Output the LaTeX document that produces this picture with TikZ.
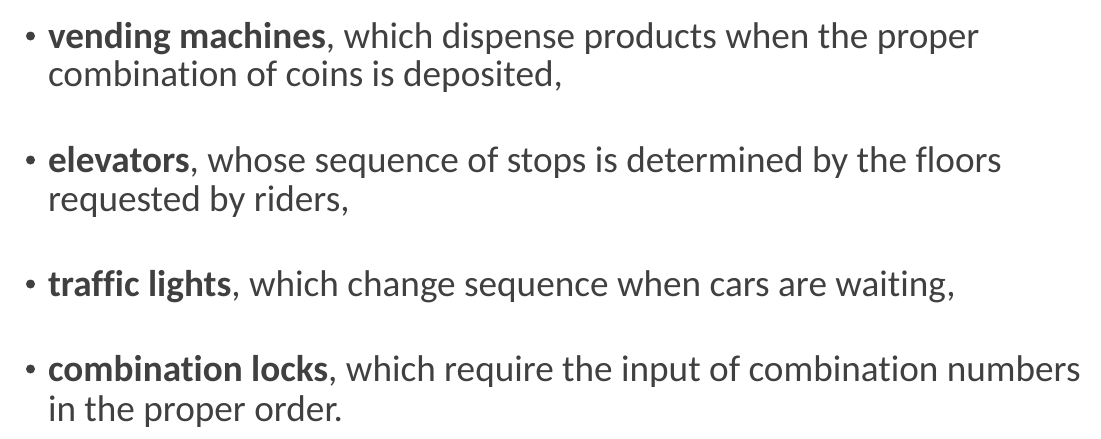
\documentclass[tikz,border=0pt]{standalone}
\usepackage{fontspec}
\setmainfont{Carlito}[Ligatures={NoCommon}]
\definecolor{txt}{HTML}{404040}
\begin{document}
\begin{tikzpicture}[x=1pt,y=-1pt,
  line/.style={anchor=base west,inner sep=0pt,outer sep=0pt,text=txt,font=\fontsize{37.2}{44}\selectfont},
  bul/.style={circle,fill=txt,inner sep=0pt,minimum size=9pt}]
\useasboundingbox (0,0) rectangle (1101,439);
\node[bul] (b1) at (30.5,36) {};
\node[line] (l1) at (48,48) {\textbf{vending machines}, which dispense products when the proper};
\node[line] (l2) at (48,86) {combination of coins is deposited,};
\node[bul] (b2) at (30.5,160) {};
\node[line] (l3) at (48,172) {\textbf{elevators}, whose sequence of stops is determined by the floors};
\node[line] (l4) at (48,211) {requested by riders,};
\node[bul] (b3) at (30.5,284) {};
\node[line] (l5) at (48,296) {\textbf{traffic lights}, which change sequence when cars are waiting,};
\node[bul] (b4) at (30.5,369) {};
\node[line] (l6) at (48,381) {\textbf{combination locks}, which require the input of combination numbers};
\node[line] (l7) at (48,421) {in the proper order.};
\end{tikzpicture}
\end{document}
